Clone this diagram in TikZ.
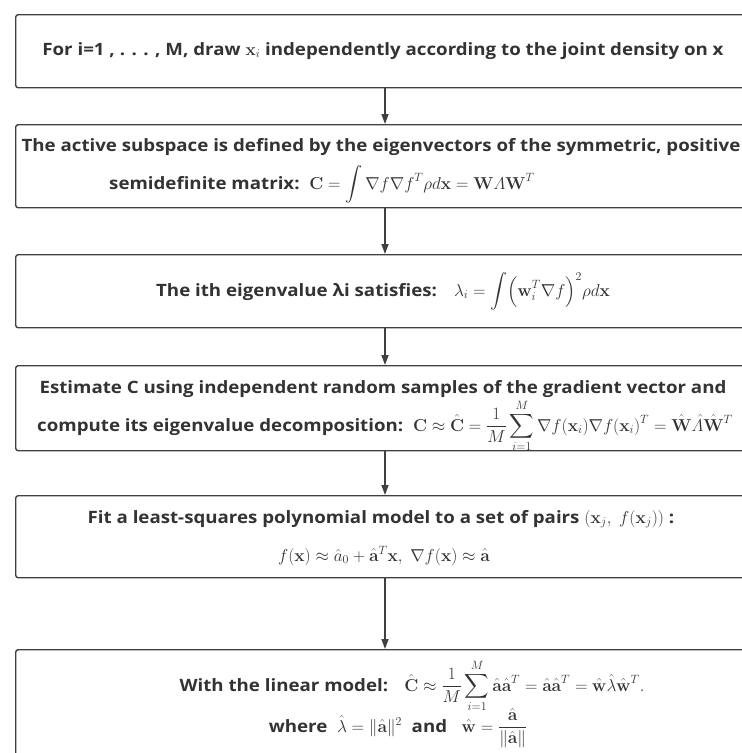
\documentclass[tikz,border=0pt]{standalone}
\usepackage{amsmath,amssymb}
\usepackage[no-math]{fontspec}
\setmainfont{Open Sans}[FakeStretch=1.1]
\usetikzlibrary{arrows.meta}
\definecolor{framegray}{HTML}{404040}
\definecolor{txtgray}{HTML}{333333}

\begin{document}
\begin{tikzpicture}[x=1pt,y=-1pt,>={Triangle[length=10pt,width=7pt]},
  stepbox/.style={draw=framegray,line width=1.4pt,rounded corners=2.5pt,
    minimum width=736pt,anchor=north west,inner sep=0pt},
  steptext/.style={anchor=base,inner sep=0pt,text=txtgray,
    font=\fontsize{17}{20}\selectfont\bfseries},
  flow/.style={->,line width=1.3pt,draw=framegray}]
  \useasboundingbox (0,0) rectangle (742,753);
  \clip (0,0) rectangle (742,753);
  % boxes
  \node[stepbox,minimum height=73pt] (sampling) at (15,14) {};
  \node[stepbox,minimum height=83pt] (activesub) at (15,124) {};
  \node[stepbox,minimum height=73pt] (eigval) at (15,254) {};
  \node[stepbox,minimum height=85pt] (estimate) at (15,365) {};
  \node[stepbox,minimum height=82pt] (fitmodel) at (15,495) {};
  \node[stepbox,minimum height=150pt] (linmodel) at (15,649) {};
  % texts
  \node[steptext] (sampling l1) at (383,55)
    {For i=1 , . . . , M, draw $\mathbf{x}_i$ independently according to the joint density on x};
  \node[steptext] (activesub l1) at (381,151)
    {The active subspace is defined by the eigenvectors of the symmetric, positive};
  \node[steptext] (activesub l2) at (322,189)
    {semidefinite matrix:~~$\mathbf{C}=\displaystyle\int\nabla f\nabla f^T\rho d\mathbf{x}=\mathbf{W}\varLambda\mathbf{W}^T$};
  \node[steptext] (eigval l1) at (383,296)
    {The ith eigenvalue λi satisfies:\quad $\lambda_i=\displaystyle\int\Bigl(\mathbf{w}_i^T\nabla f\Bigr)^2\rho d\mathbf{x}$};
  \node[steptext] (estimate l1) at (383,393)
    {Estimate C using independent random samples of the gradient vector and};
  \node[steptext] (estimate l2) at (385,431)
    {compute its eigenvalue decomposition:~~$\mathbf{C}\approx\hat{\mathbf{C}}=\dfrac{1}{M}\displaystyle\sum_{i=1}^{M}\nabla f(\mathbf{x}_i)\nabla f(\mathbf{x}_i)^T=\hat{\mathbf{W}}\hat{\varLambda}\hat{\mathbf{W}}^T$};
  \node[steptext] (fitmodel l1) at (381,523)
    {Fit a least-squares polynomial model to a set of pairs $(\mathbf{x}_j,\ f(\mathbf{x}_j))$ :};
  \node[steptext] (fitmodel l2) at (384,561)
    {$f(\mathbf{x})\approx\hat{a}_0+\hat{\mathbf{a}}^T\mathbf{x},\ \nabla f(\mathbf{x})\approx\hat{\mathbf{a}}$};
  \node[steptext] (linmodel l1) at (412,691)
    {With the linear model:~~ $\hat{\mathbf{C}}\approx\dfrac{1}{M}\displaystyle\sum_{i=1}^{M}\hat{\mathbf{a}}\hat{\mathbf{a}}^T=\hat{\mathbf{a}}\hat{\mathbf{a}}^T=\hat{\mathbf{w}}\hat{\lambda}\hat{\mathbf{w}}^T.$};
  \node[steptext] (linmodel l2) at (398,732)
    {where~ $\hat{\lambda}=\|\hat{\mathbf{a}}\|^2$~ and~~ $\hat{\mathbf{w}}=\dfrac{\hat{\mathbf{a}}}{\|\hat{\mathbf{a}}\|}$};
  % connectors
  \coordinate (axis) at (385,0);
  \draw[flow] (sampling.south -| axis) -- (activesub.north -| axis);
  \draw[flow] (activesub.south -| axis) -- (eigval.north -| axis);
  \draw[flow] (eigval.south -| axis) -- (estimate.north -| axis);
  \draw[flow] (estimate.south -| axis) -- (fitmodel.north -| axis);
  \draw[flow] (fitmodel.south -| axis) -- (linmodel.north -| axis);
\end{tikzpicture}
\end{document}
